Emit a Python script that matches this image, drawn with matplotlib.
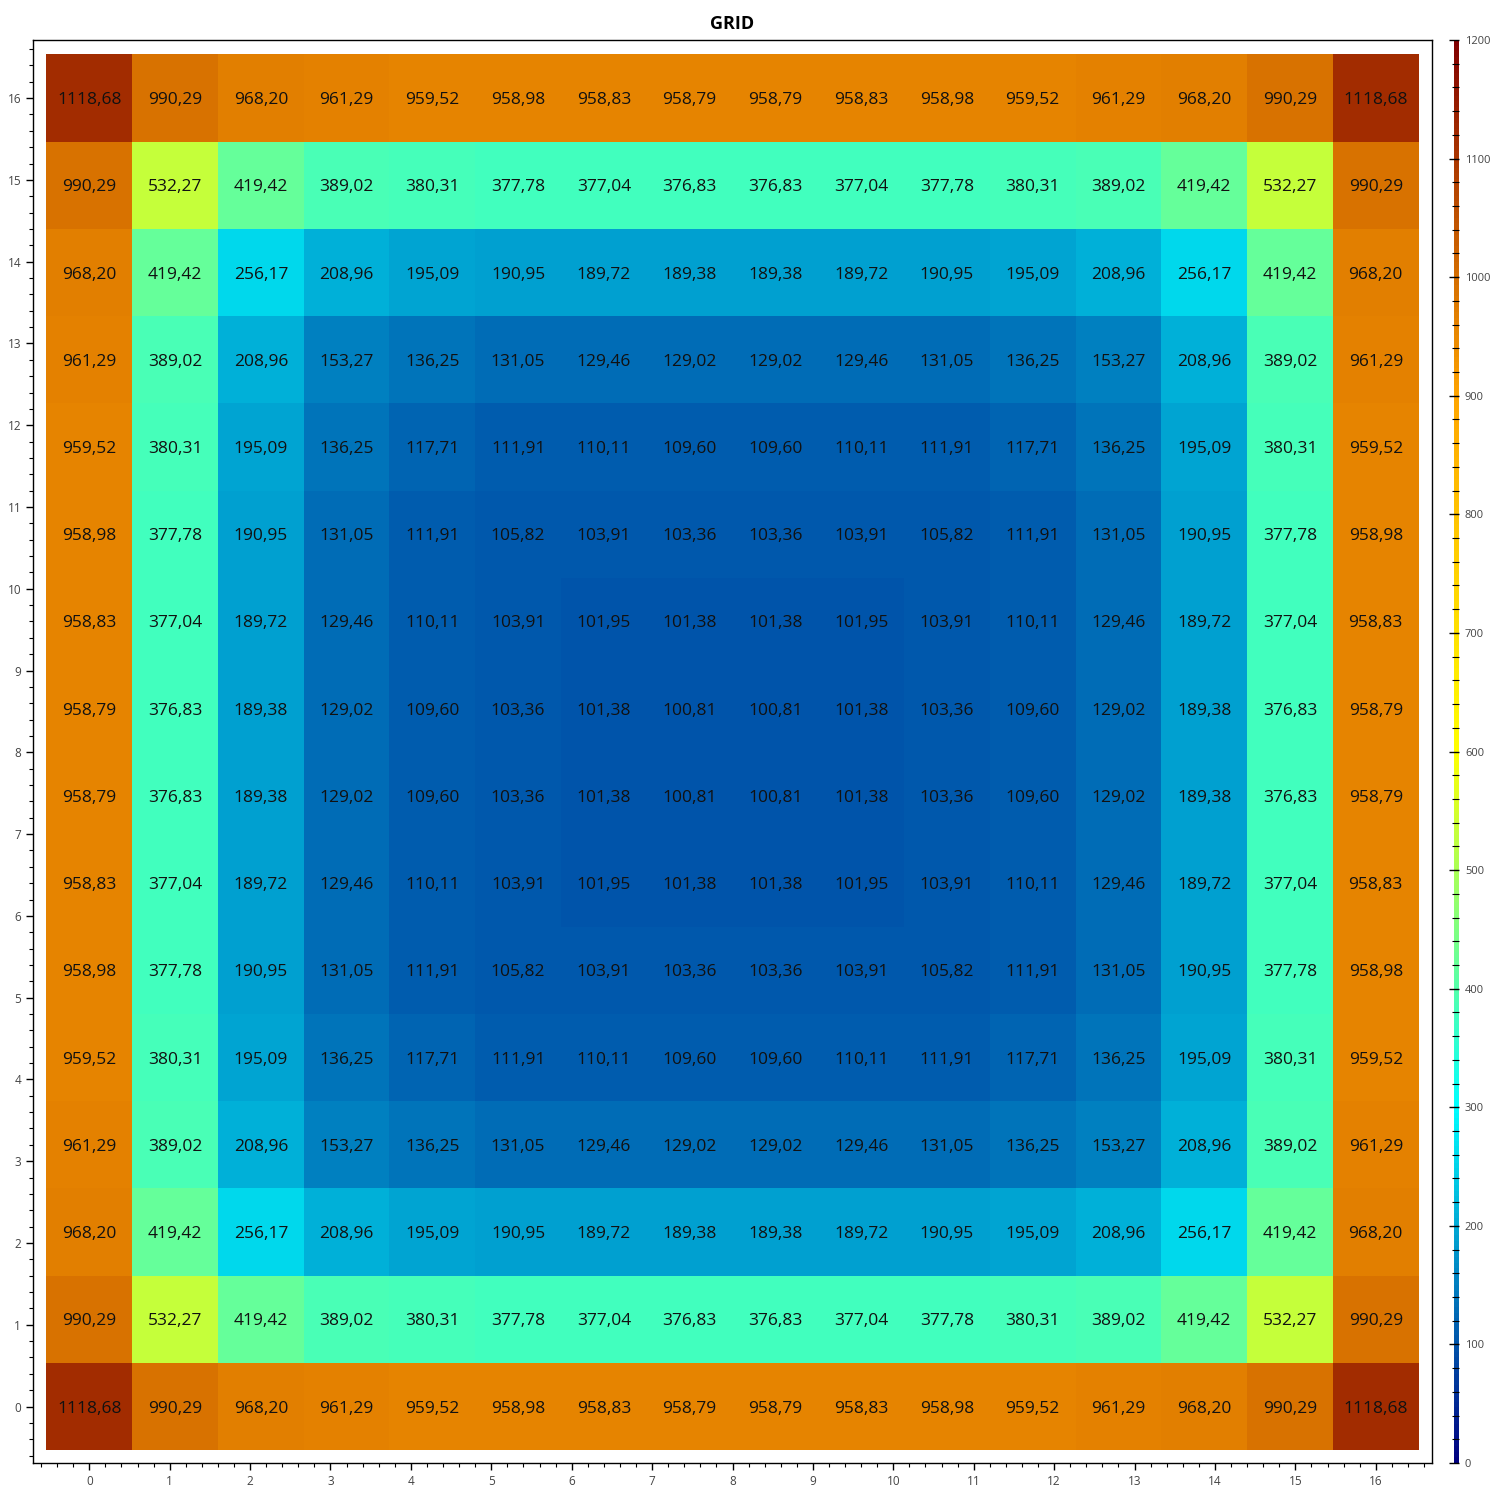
import numpy as np
import matplotlib
matplotlib.use("Agg")
import matplotlib.pyplot as plt
from matplotlib.colors import LinearSegmentedColormap
from matplotlib.ticker import MultipleLocator, AutoMinorLocator

plt.rcParams['font.family'] = ['Open Sans', 'DejaVu Sans']

# one quadrant of the symmetric 16x16 grid (rows from the bottom, columns from the left)
row0 = [1118.68, 990.29, 968.20, 961.29, 959.52, 958.98, 958.83, 958.79]
row1 = [990.29, 532.27, 419.42, 389.02, 380.31, 377.78, 377.04, 376.83]
row2 = [968.20, 419.42, 256.17, 208.96, 195.09, 190.95, 189.72, 189.38]
row3 = [961.29, 389.02, 208.96, 153.27, 136.25, 131.05, 129.46, 129.02]
row4 = [959.52, 380.31, 195.09, 136.25, 117.71, 111.91, 110.11, 109.60]
row5 = [958.98, 377.78, 190.95, 131.05, 111.91, 105.82, 103.91, 103.36]
row6 = [958.83, 377.04, 189.72, 129.46, 110.11, 103.91, 101.95, 101.38]
row7 = [958.79, 376.83, 189.38, 129.02, 109.60, 103.36, 101.38, 100.81]

quad = np.array([row0, row1, row2, row3, row4, row5, row6, row7])
half = np.hstack([quad, quad[:, ::-1]])
grid = np.vstack([half, half[::-1]])

n = grid.shape[0]
centers = np.linspace(0, 16, n)
step = centers[1] - centers[0]
edges = np.concatenate([centers - step / 2, [centers[-1] + step / 2]])

cmap = LinearSegmentedColormap.from_list(
    "grid", ["#000080", "#00ffff", "#ffff00", "#ffa500", "#800000"])

fig = plt.figure(figsize=(15, 15), dpi=100)
ax = fig.add_axes([0.022, 0.0247, 0.9327, 0.9486])
cax = fig.add_axes([0.9693, 0.0247, 0.0036, 0.9486])

mesh = ax.pcolormesh(edges, edges, grid, cmap=cmap, vmin=0, vmax=1200)

for i in range(n):
    for j in range(n):
        ax.text(centers[j], centers[i], f"{grid[i, j]:.2f}".replace(".", ","),
                ha="center", va="center_baseline", fontsize=12.5, color="#111111")

ax.set_xlim(-0.7, 16.7)
ax.set_ylim(-0.69, 16.71)
ax.xaxis.set_major_locator(MultipleLocator(1))
ax.yaxis.set_major_locator(MultipleLocator(1))
ax.xaxis.set_minor_locator(AutoMinorLocator(5))
ax.yaxis.set_minor_locator(AutoMinorLocator(5))
ax.tick_params(which="major", length=5, width=1, labelsize=8.5, labelcolor="#444444")
ax.tick_params(which="minor", length=3, width=0.8)
for s in ax.spines.values():
    s.set_linewidth(1)
ax.set_title("GRID", fontsize=13, fontweight="bold", pad=8)

cb = fig.colorbar(mesh, cax=cax)
cb.outline.set_visible(False)
cb.set_ticks(np.arange(0, 1201, 100))
cb.ax.yaxis.set_minor_locator(MultipleLocator(20))
cb.ax.tick_params(which="major", direction="in", length=7, width=1,
                  labelsize=8, labelcolor="#444444", pad=4)
cb.ax.tick_params(which="minor", direction="in", length=5, width=0.8)

fig.savefig("out.png", dpi=100)
